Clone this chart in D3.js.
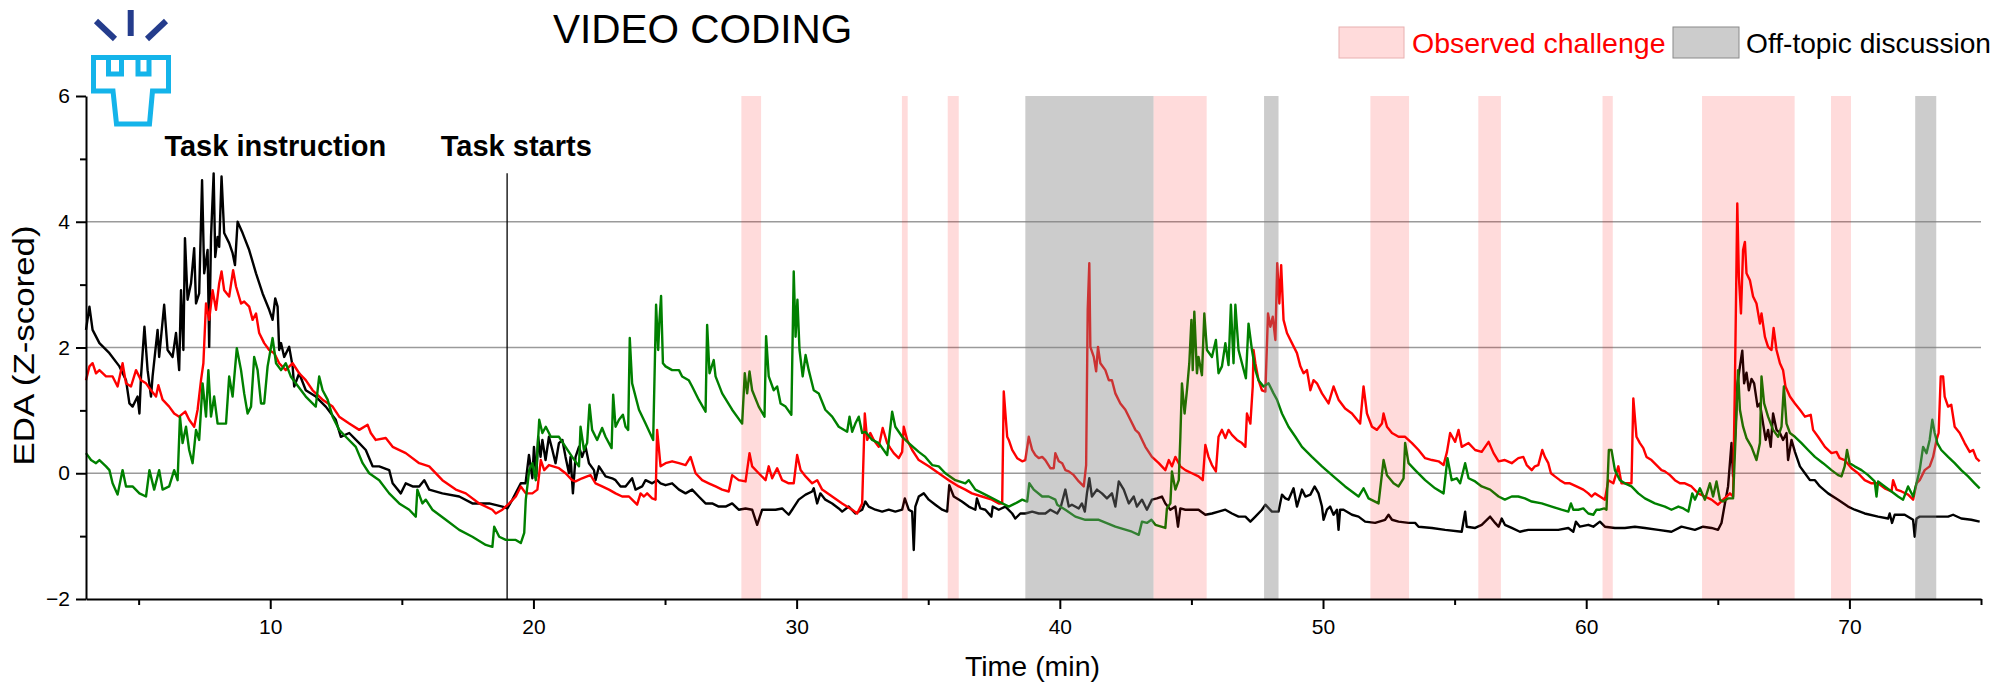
<!DOCTYPE html>
<html>
<head>
<meta charset="utf-8">
<script src="https://cdn.jsdelivr.net/npm/d3@7/dist/d3.min.js"></script>
<style>
  html, body { margin: 0; padding: 0; background: #fff; }
  svg { display: block; font-family: "Liberation Sans", Arial, sans-serif; }
</style>
</head>
<body>
<svg id="chart" width="2013" height="682"></svg>
<script>
// ---------------- DATA ----------------
const xMajorTicks = [10, 20, 30, 40, 50, 60, 70];
const xMinorTicks = [5, 15, 25, 35, 45, 55, 65, 75];
const yMajorTicks = [-2, 0, 2, 4, 6];
const yMinorTicks = [-1, 1, 3, 5];
const gridValues = [0, 2, 4];

const observedChallenge = [[27.9, 28.65], [34.0, 34.22], [35.74, 36.16], [43.56, 45.58], [51.8, 53.27], [55.9, 56.76], [60.62, 61.01], [64.4, 67.92], [69.3, 70.06]];
const offTopic = [[38.69, 43.56], [47.76, 48.31], [72.5, 73.3]];

const taskInstruction = { label: "Task instruction", time: 5.98, value: 5.04 };
const taskStarts = { label: "Task starts", time: 16.48, value: 5.04, lineTime: 19, lineTop: 4.77 };

const blackSeries = [[3.00,2.28],[3.13,2.65],[3.25,2.28],[3.51,2.07],[3.89,1.91],[4.27,1.70],[4.52,1.48],[4.65,1.11],[4.77,1.06],[4.96,1.22],[5.03,0.95],[5.09,1.54],[5.22,2.33],[5.34,1.64],[5.47,1.22],[5.53,1.54],[5.72,2.28],[5.78,1.85],[5.97,2.68],[6.10,1.96],[6.29,1.85],[6.42,2.23],[6.54,1.64],[6.61,2.91],[6.70,1.96],[6.76,3.74],[6.86,2.76],[6.99,3.02],[7.11,3.58],[7.18,2.70],[7.30,2.86],[7.41,4.66],[7.49,3.18],[7.62,3.55],[7.68,2.01],[7.75,3.76],[7.85,4.77],[7.91,3.44],[8.00,3.76],[8.06,3.60],[8.15,4.72],[8.25,3.82],[8.44,3.66],[8.57,3.50],[8.66,3.31],[8.76,4.00],[8.95,3.82],[9.20,3.55],[9.46,3.18],[9.71,2.86],[9.96,2.60],[10.09,2.44],[10.19,2.78],[10.28,2.65],[10.34,1.96],[10.41,2.07],[10.53,1.85],[10.72,2.01],[10.85,1.70],[10.91,1.38],[11.10,1.59],[11.35,1.32],[11.73,1.22],[12.11,1.06],[12.49,0.85],[12.68,0.58],[13.00,0.64],[13.38,0.48],[13.63,0.37],[13.89,0.11],[14.14,0.11],[14.52,0.05],[14.65,-0.16],[14.96,-0.32],[15.15,-0.16],[15.41,-0.21],[15.66,-0.21],[15.85,-0.11],[16.04,-0.26],[16.54,-0.32],[17.18,-0.37],[17.68,-0.48],[18.32,-0.48],[18.82,-0.53],[19.01,-0.56],[19.20,-0.42],[19.52,-0.16],
[19.70,-0.16],[19.83,0.29],[19.96,-0.08],[20.02,0.42],[20.11,-0.05],[20.18,0.58],[20.27,0.26],[20.34,0.53],[20.46,0.21],[20.59,0.58],[20.72,0.37],[20.84,0.16],[20.97,0.48],[21.10,0.53],[21.22,0.26],[21.35,0.00],[21.41,0.26],[21.50,-0.32],[21.60,0.26],[21.73,0.42],[21.85,0.26],[21.98,0.42],[22.11,0.16],[22.30,0.05],[22.36,-0.11],[22.49,0.11],[22.74,-0.05],[22.99,-0.08],[23.12,-0.11],[23.31,-0.21],[23.50,-0.21],[23.75,-0.08],[23.88,-0.26],[24.13,-0.21],[24.26,-0.11],[24.51,-0.16],[24.70,-0.11],[24.83,-0.16],[25.02,-0.19],[25.27,-0.16],[25.53,-0.26],[25.78,-0.32],[26.03,-0.26],[26.28,-0.37],[26.54,-0.48],[26.79,-0.48],[27.04,-0.53],[27.30,-0.53],[27.55,-0.48],[27.80,-0.58],[28.06,-0.56],[28.31,-0.58],[28.50,-0.82],[28.69,-0.58],[28.94,-0.58],[29.20,-0.58],[29.45,-0.56],[29.70,-0.66],[29.83,-0.58],[30.08,-0.42],[30.34,-0.34],[30.59,-0.29],[30.65,-0.24],[30.78,-0.48],[30.90,-0.32],[31.09,-0.42],[31.35,-0.48],[31.60,-0.56],[31.73,-0.61],[31.98,-0.53],[32.23,-0.64],[32.49,-0.58],[32.61,-0.45],[32.74,-0.53],[32.99,-0.58],[33.25,-0.61],[33.50,-0.58],[33.75,-0.61],[34.01,-0.58],[34.11,-0.40],[34.26,-0.58],[34.39,-0.61],[34.45,-1.22],[34.51,-0.53],[34.64,-0.37],[34.83,-0.32],[35.02,-0.42],[35.27,-0.50],[35.53,-0.58],[35.72,-0.61],[35.80,-0.19],[35.97,-0.37],[36.28,-0.45],[36.54,-0.53],[36.79,-0.58],[36.85,-0.40],[36.98,-0.56],[37.17,-0.58],[37.40,-0.69],[37.45,-0.53],[37.68,-0.58],
[37.93,-0.53],[38.19,-0.64],[38.31,-0.72],[38.50,-0.64],[38.69,-0.64],[38.95,-0.61],[39.20,-0.64],[39.45,-0.64],[39.64,-0.58],[39.90,-0.64],[40.02,-0.56],[40.21,-0.26],[40.34,-0.53],[40.46,-0.50],[40.72,-0.56],[40.84,-0.48],[40.95,-0.61],[41.03,-0.32],[41.12,-0.08],[41.22,-0.37],[41.41,-0.26],[41.60,-0.32],[41.79,-0.40],[41.98,-0.32],[42.11,-0.53],[42.24,-0.13],[42.43,-0.26],[42.62,-0.48],[42.81,-0.37],[42.93,-0.53],[43.12,-0.42],[43.31,-0.58],[43.50,-0.42],[43.69,-0.40],[43.88,-0.37],[44.01,-0.48],[44.20,-0.58],[44.39,-0.53],[44.49,-0.85],[44.58,-0.56],[44.77,-0.58],[45.02,-0.58],[45.27,-0.58],[45.53,-0.66],[45.78,-0.64],[46.03,-0.61],[46.29,-0.58],[46.54,-0.64],[46.79,-0.69],[47.05,-0.69],[47.24,-0.77],[47.43,-0.69],[47.68,-0.58],[47.81,-0.50],[48.06,-0.61],[48.31,-0.61],[48.44,-0.34],[48.57,-0.40],[48.69,-0.42],[48.88,-0.24],[49.01,-0.53],[49.20,-0.26],[49.33,-0.37],[49.52,-0.34],[49.68,-0.21],[49.83,-0.32],[49.96,-0.53],[50.02,-0.74],[50.15,-0.58],[50.27,-0.53],[50.40,-0.66],[50.53,-0.58],[50.59,-0.90],[50.65,-0.58],[50.78,-0.58],[51.10,-0.66],[51.35,-0.69],[51.60,-0.77],[51.98,-0.79],[52.36,-0.74],[52.49,-0.66],[52.62,-0.74],[52.87,-0.77],[53.25,-0.79],[53.50,-0.79],[53.63,-0.85],[54.14,-0.87],[54.64,-0.90],[55.27,-0.93],[55.40,-0.61],[55.46,-0.85],[55.78,-0.87],[56.03,-0.82],[56.35,-0.69],[56.54,-0.79],[56.67,-0.85],
[56.79,-0.72],[56.91,-0.82],[57.17,-0.87],[57.48,-0.93],[57.80,-0.90],[58.18,-0.90],[58.56,-0.90],[58.94,-0.90],[59.32,-0.87],[59.51,-0.93],[59.61,-0.77],[59.76,-0.85],[60.08,-0.82],[60.27,-0.85],[60.52,-0.77],[60.71,-0.85],[61.09,-0.87],[61.47,-0.87],[61.85,-0.85],[62.23,-0.87],[62.74,-0.90],[63.24,-0.93],[63.62,-0.85],[64.13,-0.90],[64.44,-0.85],[64.76,-0.87],[65.01,-0.90],[65.14,-0.79],[65.27,-0.48],[65.39,-0.21],[65.52,0.48],[65.58,-0.05],[65.67,0.69],[65.75,1.43],[65.84,1.70],[65.93,1.95],[66.00,1.43],[66.09,1.60],[66.18,1.32],[66.28,1.50],[66.38,1.43],[66.51,1.06],[66.60,1.11],[66.72,0.79],[66.82,0.53],[66.91,0.69],[67.01,0.42],[67.10,0.95],[67.23,0.69],[67.36,0.64],[67.48,0.53],[67.61,0.64],[67.67,0.21],[67.80,0.53],[67.93,0.34],[68.12,0.11],[68.31,0.00],[68.50,-0.11],[68.69,-0.11],[68.88,-0.21],[69.19,-0.32],[69.57,-0.42],[69.95,-0.53],[70.20,-0.58],[70.58,-0.64],[71.09,-0.69],[71.47,-0.72],[71.53,-0.64],[71.62,-0.79],[71.72,-0.66],[72.10,-0.66],[72.42,-0.74],[72.48,-1.01],[72.55,-0.72],[72.67,-0.69],[72.99,-0.69],[73.37,-0.69],[73.75,-0.69],[73.94,-0.66],[74.25,-0.72],[74.63,-0.74],[74.95,-0.77]];

const redSeries = [[3.00,1.48],[3.13,1.70],[3.25,1.75],[3.38,1.59],[3.51,1.64],[3.76,1.54],[4.01,1.54],[4.20,1.38],[4.39,1.75],[4.52,1.43],[4.71,1.38],[4.90,1.64],[5.09,1.48],[5.28,1.43],[5.47,1.32],[5.66,1.22],[5.75,1.40],[5.91,1.17],[6.16,1.06],[6.35,0.95],[6.54,0.90],[6.77,0.98],[6.92,0.85],[7.11,0.74],[7.24,1.01],[7.37,1.48],[7.46,1.75],[7.56,2.70],[7.68,2.44],[7.81,2.91],[7.94,2.60],[8.06,3.02],[8.15,3.21],[8.25,2.91],[8.44,2.81],[8.59,3.23],[8.70,2.97],[8.89,2.70],[9.01,2.73],[9.20,2.65],[9.33,2.44],[9.46,2.54],[9.58,2.23],[9.77,2.07],[9.96,1.96],[10.15,1.91],[10.34,1.75],[10.59,1.64],[10.85,1.75],[11.10,1.59],[11.35,1.48],[11.61,1.32],[11.99,1.17],[12.37,1.06],[12.62,0.90],[13.00,0.79],[13.38,0.69],[13.70,0.77],[13.82,0.64],[14.01,0.53],[14.39,0.56],[14.65,0.42],[15.15,0.32],[15.66,0.16],[16.04,0.11],[16.54,-0.11],[17.05,-0.26],[17.43,-0.32],[17.94,-0.48],[18.44,-0.58],[18.57,-0.64],[18.82,-0.58],[19.08,-0.48],[19.33,-0.37],[19.52,-0.21],[19.71,-0.32],[19.96,-0.32],[20.15,-0.26],[20.28,0.21],[20.41,0.05],[20.59,0.13],[20.97,0.08],
[21.22,0.00],[21.47,-0.11],[21.60,-0.13],[21.85,-0.08],[22.04,-0.05],[22.17,-0.03],[22.36,-0.16],[22.61,-0.21],[22.87,-0.26],[23.12,-0.32],[23.37,-0.37],[23.63,-0.37],[23.75,-0.42],[23.94,-0.50],[24.07,-0.32],[24.20,-0.37],[24.32,-0.32],[24.51,-0.40],[24.64,-0.42],[24.70,0.69],[24.83,0.11],[25.02,0.16],[25.27,0.19],[25.53,0.16],[25.78,0.13],[25.97,0.26],[26.16,0.00],[26.41,-0.11],[26.66,-0.16],[26.92,-0.21],[27.17,-0.26],[27.42,-0.29],[27.55,-0.03],[27.80,-0.11],[28.06,-0.13],[28.21,0.32],[28.31,0.11],[28.56,0.00],[28.82,-0.11],[28.94,0.11],[29.07,-0.08],[29.26,0.08],[29.45,-0.11],[29.70,-0.16],[29.89,-0.16],[30.02,0.29],[30.15,0.05],[30.34,-0.05],[30.59,-0.16],[30.78,-0.11],[30.97,-0.26],[31.35,-0.37],[31.73,-0.48],[32.11,-0.58],[32.30,-0.64],[32.49,-0.48],[32.59,0.95],[32.68,0.53],[32.80,0.64],[32.93,0.53],[33.12,0.42],[33.27,0.72],[33.44,0.48],[33.56,0.40],[33.69,0.32],[33.88,0.24],[34.01,0.34],[34.07,0.74],[34.20,0.53],[34.39,0.37],[34.64,0.21],[35.02,0.11],[35.40,0.00],[35.78,-0.11],[36.16,-0.21],[36.41,-0.26],[36.66,-0.32],[37.04,-0.37],[37.42,-0.42],[37.68,-0.48],
[37.81,-0.48],[37.87,1.30],[38.00,0.58],[38.06,0.53],[38.19,0.37],[38.38,0.24],[38.57,0.19],[38.69,0.21],[38.82,0.58],[38.95,0.37],[39.07,0.29],[39.20,0.24],[39.33,0.26],[39.45,0.21],[39.64,0.08],[39.77,0.08],[39.83,0.32],[39.96,0.19],[40.09,0.16],[40.21,0.05],[40.34,0.03],[40.53,-0.03],[40.72,-0.13],[40.91,-0.21],[41.00,0.13],[41.06,2.60],[41.12,3.34],[41.16,2.01],[41.29,1.85],[41.38,1.62],[41.45,2.01],[41.54,1.75],[41.73,1.64],[41.86,1.48],[41.98,1.48],[42.11,1.27],[42.30,1.11],[42.49,1.01],[42.68,0.85],[42.87,0.69],[43.00,0.64],[43.25,0.42],[43.50,0.26],[43.76,0.16],[44.01,0.05],[44.14,0.21],[44.26,0.11],[44.39,0.26],[44.58,0.11],[44.77,0.05],[45.02,0.00],[45.27,-0.05],[45.43,-0.11],[45.53,0.45],[45.65,0.26],[45.78,0.13],[45.93,0.03],[46.03,0.58],[46.16,0.69],[46.29,0.56],[46.41,0.69],[46.54,0.61],[46.73,0.53],[46.92,0.48],[47.05,0.42],[47.11,0.95],[47.24,0.79],[47.33,1.38],[47.36,1.96],[47.43,1.75],[47.55,1.48],[47.68,1.32],[47.81,1.30],[47.91,2.54],[48.00,2.33],[48.09,2.49],[48.19,2.12],[48.26,3.34],[48.34,2.70],[48.41,3.31],[48.50,2.44],[48.63,2.23],[48.82,2.07],[49.01,1.91],[49.14,1.70],[49.26,1.59],[49.39,1.64],[49.52,1.32],[49.64,1.48],[49.77,1.43],[49.96,1.27],[50.21,1.11],[50.40,1.38],[50.59,1.17],[50.84,1.03],[51.10,0.95],[51.41,0.79],[51.54,1.38],[51.67,0.95],[51.86,0.74],[52.05,0.69],[52.24,0.79],[52.30,0.95],[52.43,0.74],[52.62,0.64],[52.87,0.58],[53.12,0.58],[53.38,0.48],[53.63,0.37],[53.88,0.24],[54.14,0.21],[54.39,0.19],[54.58,0.13],[54.71,0.34],[54.83,0.64],[55.02,0.50],[55.15,0.69],[55.27,0.42],[55.53,0.48],[55.78,0.37],[56.03,0.34],[56.29,0.50],[56.48,0.32],[56.67,0.19],
[56.91,0.21],[57.17,0.16],[57.42,0.24],[57.61,0.26],[57.74,0.13],[57.93,0.05],[58.05,0.11],[58.18,0.13],[58.33,0.37],[58.43,0.26],[58.56,0.16],[58.66,0.00],[58.81,-0.05],[59.00,-0.11],[59.19,-0.16],[59.38,-0.16],[59.63,-0.21],[59.89,-0.26],[60.08,-0.32],[60.20,-0.37],[60.33,-0.32],[60.52,-0.37],[60.71,-0.42],[60.84,-0.11],[61.03,-0.16],[61.22,0.11],[61.34,-0.16],[61.72,-0.16],[61.79,1.19],[61.91,0.58],[62.04,0.48],[62.17,0.40],[62.29,0.26],[62.48,0.21],[62.67,0.13],[62.86,0.05],[62.99,0.03],[63.18,-0.03],[63.37,-0.11],[63.56,-0.16],[63.75,-0.16],[64.00,-0.21],[64.25,-0.32],[64.51,-0.37],[64.76,-0.42],[65.01,-0.50],[65.20,-0.42],[65.33,-0.37],[65.46,-0.32],[65.58,-0.37],[65.65,1.43],[65.74,4.29],[65.80,3.13],[65.88,2.54],[65.96,3.55],[66.03,3.68],[66.09,3.18],[66.22,3.07],[66.34,2.81],[66.47,2.70],[66.60,2.38],[66.66,2.54],[66.79,2.17],[66.91,2.01],[67.04,1.96],[67.12,2.31],[67.23,1.96],[67.36,1.75],[67.48,1.64],[67.57,1.38],[67.74,1.22],[67.93,1.11],[68.12,1.01],[68.31,0.90],[68.53,0.93],[68.62,0.69],[68.81,0.58],[69.07,0.42],[69.32,0.32],[69.51,0.34],[69.63,0.24],[69.82,0.21],[70.08,0.08],[70.33,0.00],[70.58,-0.11],[70.84,-0.16],[71.09,-0.16],[71.34,-0.24],[71.60,-0.29],[71.66,-0.11],[71.79,-0.26],[71.98,-0.29],[72.23,-0.34],[72.42,-0.42],[72.55,-0.16],[72.67,-0.11],[72.86,0.05],[73.05,0.11],[73.18,0.26],[73.31,0.53],[73.39,0.64],[73.47,1.54],[73.56,1.54],[73.62,1.22],[73.75,1.06],[73.87,1.09],[74.00,0.74],[74.19,0.64],[74.38,0.48],[74.57,0.34],[74.70,0.37],[74.82,0.24],[74.95,0.19]];

const greenSeries = [[3.00,0.32],[3.19,0.21],[3.38,0.16],[3.51,0.21],[3.76,0.11],[3.89,0.05],[4.01,-0.16],[4.20,-0.34],[4.39,0.05],[4.52,-0.21],[4.77,-0.21],[5.03,-0.32],[5.28,-0.37],[5.41,0.05],[5.59,-0.26],[5.78,0.05],[5.91,-0.26],[6.16,-0.21],[6.35,0.05],[6.48,-0.11],[6.57,0.90],[6.67,0.48],[6.80,0.74],[6.92,0.37],[7.05,0.16],[7.18,0.69],[7.30,0.53],[7.43,1.43],[7.56,0.90],[7.65,1.64],[7.75,0.90],[7.87,1.22],[8.00,0.79],[8.32,0.79],[8.44,1.54],[8.57,1.22],[8.73,1.99],[8.89,1.64],[9.01,1.27],[9.14,0.95],[9.27,1.06],[9.39,1.85],[9.52,1.64],[9.65,1.11],[9.77,1.11],[9.90,1.70],[10.09,2.15],[10.22,1.75],[10.41,1.64],[10.59,1.75],[10.78,1.54],[10.97,1.43],[11.35,1.22],[11.73,1.06],[11.86,1.54],[11.99,1.32],[12.18,1.17],[12.37,0.90],[12.62,0.69],[12.87,0.58],[13.25,0.42],[13.51,0.16],[13.76,0.00],[14.14,-0.11],[14.52,-0.32],[14.90,-0.48],[15.28,-0.58],[15.53,-0.69],[15.59,-0.26],[15.78,-0.48],[15.91,-0.42],[16.16,-0.58],[16.67,-0.74],[17.18,-0.90],[17.68,-1.01],[18.19,-1.14],[18.44,-1.17],[18.51,-0.85],[18.70,-1.01],[18.95,-1.06],[19.33,-1.06],[19.52,-1.11],[19.65,-0.95],[19.71,-0.42],[19.84,0.05],[19.96,0.16],[20.09,-0.11],[20.22,0.85],[20.34,0.64],[20.47,0.74],[20.66,0.58],[20.85,0.58],[20.97,0.58],
[21.22,0.42],[21.47,0.26],[21.73,0.11],[21.79,0.74],[21.92,0.37],[22.04,0.48],[22.13,1.09],[22.23,0.69],[22.42,0.53],[22.61,0.72],[22.74,0.58],[22.97,0.40],[23.03,1.25],[23.12,0.74],[23.25,0.85],[23.40,0.93],[23.50,0.74],[23.60,0.69],[23.66,2.15],[23.75,1.43],[24.01,1.01],[24.26,0.79],[24.55,0.53],[24.66,2.68],[24.74,1.96],[24.79,2.44],[24.85,2.82],[24.92,1.75],[25.02,1.70],[25.27,1.64],[25.53,1.64],[25.65,1.54],[25.90,1.48],[26.03,1.38],[26.28,1.17],[26.54,0.98],[26.60,2.36],[26.69,1.59],[26.85,1.80],[26.92,1.54],[27.17,1.27],[27.55,1.01],[27.93,0.79],[28.03,1.59],[28.12,1.27],[28.21,1.62],[28.31,1.32],[28.56,1.06],[28.78,0.90],[28.84,2.18],[28.94,1.54],[29.13,1.32],[29.26,1.38],[29.39,1.11],[29.58,1.06],[29.80,0.93],[29.89,3.21],[29.96,2.17],[30.03,2.76],[30.11,1.96],[30.23,1.54],[30.34,1.88],[30.46,1.64],[30.65,1.32],[30.84,1.27],[31.09,1.01],[31.35,0.90],[31.60,0.74],[31.92,0.66],[32.01,0.90],[32.11,0.66],[32.23,0.79],[32.36,0.90],[32.49,0.64],[32.61,0.66],[32.87,0.53],[33.12,0.48],[33.44,0.29],[33.63,0.98],[33.75,0.74],[34.01,0.58],[34.26,0.48],[34.64,0.34],[34.89,0.26],[35.15,0.13],[35.40,0.11],[35.65,0.00],[36.03,-0.11],[36.41,-0.16],[36.54,-0.11],[36.79,-0.26],[37.17,-0.34],[37.68,-0.45],
[38.06,-0.53],[38.31,-0.48],[38.57,-0.42],[38.76,-0.45],[38.84,-0.16],[39.01,-0.26],[39.33,-0.37],[39.58,-0.37],[39.83,-0.42],[39.90,-0.50],[40.21,-0.58],[40.59,-0.69],[40.97,-0.74],[41.48,-0.74],[42.11,-0.85],[42.74,-0.93],[43.00,-0.98],[43.12,-0.77],[43.31,-0.79],[43.48,-0.74],[43.63,-0.82],[44.01,-0.87],[44.07,-0.56],[44.20,-0.48],[44.26,0.03],[44.39,-0.26],[44.52,-0.11],[44.58,0.58],[44.64,1.43],[44.74,0.95],[44.83,1.32],[44.92,1.75],[45.00,2.44],[45.05,1.64],[45.11,2.57],[45.21,1.59],[45.27,1.85],[45.40,1.56],[45.49,2.54],[45.59,1.96],[45.78,1.85],[45.93,2.12],[46.03,1.59],[46.16,1.70],[46.29,2.07],[46.41,1.72],[46.50,2.68],[46.60,1.75],[46.67,2.68],[46.79,1.96],[46.92,1.75],[47.07,1.51],[47.17,2.38],[47.30,1.96],[47.43,1.64],[47.55,1.48],[47.74,1.38],[47.93,1.43],[48.12,1.27],[48.25,1.17],[48.44,0.95],[48.69,0.74],[48.95,0.58],[49.20,0.42],[49.58,0.26],[49.96,0.11],[50.34,-0.03],[50.84,-0.21],[51.35,-0.37],[51.54,-0.24],[51.73,-0.40],[52.11,-0.48],[52.30,0.21],[52.43,-0.03],[52.68,-0.16],[52.87,-0.21],[53.06,-0.08],[53.12,0.48],[53.25,0.16],[53.50,0.05],[53.88,-0.11],[54.26,-0.24],[54.58,-0.32],[54.73,0.24],[54.89,-0.11],[55.08,-0.08],[55.21,-0.16],[55.40,0.16],[55.53,-0.08],[55.78,-0.13],[56.03,-0.21],[56.35,-0.26],[56.67,-0.37],
[56.91,-0.42],[57.17,-0.37],[57.42,-0.37],[57.67,-0.40],[57.93,-0.45],[58.31,-0.48],[58.69,-0.53],[59.06,-0.58],[59.32,-0.61],[59.42,-0.48],[59.51,-0.58],[59.70,-0.58],[59.89,-0.56],[60.08,-0.64],[60.27,-0.66],[60.39,-0.58],[60.52,-0.58],[60.69,-0.56],[60.77,-0.58],[60.86,0.37],[60.96,0.37],[61.09,0.05],[61.28,-0.11],[61.47,-0.16],[61.72,-0.21],[61.98,-0.32],[62.23,-0.40],[62.61,-0.48],[62.99,-0.53],[63.24,-0.58],[63.50,-0.53],[63.69,-0.56],[63.88,-0.61],[64.03,-0.32],[64.13,-0.42],[64.32,-0.24],[64.51,-0.42],[64.70,-0.16],[64.82,-0.37],[64.95,-0.13],[65.08,-0.42],[65.20,-0.45],[65.39,-0.40],[65.58,-0.40],[65.67,0.53],[65.77,1.64],[65.84,1.01],[65.96,0.74],[66.09,0.56],[66.28,0.42],[66.47,0.21],[66.60,0.48],[66.66,1.54],[66.76,1.11],[66.91,0.90],[67.10,0.69],[67.29,0.58],[67.42,0.74],[67.51,1.38],[67.61,0.79],[67.74,0.64],[67.93,0.58],[68.18,0.48],[68.43,0.37],[68.69,0.26],[69.00,0.16],[69.32,0.05],[69.57,-0.03],[69.70,-0.05],[69.82,0.11],[69.91,0.37],[70.01,0.16],[70.20,0.11],[70.46,0.05],[70.71,-0.03],[70.96,-0.13],[71.03,-0.37],[71.09,-0.13],[71.34,-0.21],[71.60,-0.29],[71.85,-0.37],[72.04,-0.42],[72.23,-0.21],[72.42,-0.37],[72.55,-0.16],[72.67,0.05],[72.80,0.42],[72.93,0.32],[73.05,0.53],[73.15,0.85],[73.24,0.64],[73.34,0.48],[73.49,0.37],[73.75,0.26],[74.00,0.16],[74.25,0.05],[74.51,-0.05],[74.76,-0.16],[74.95,-0.24]];

const seriesList = [
  { name: "black", color: "#000000", data: blackSeries },
  { name: "red", color: "#ff0000", data: redSeries },
  { name: "green", color: "#008000", data: greenSeries }
];

// ---------------- CHART ----------------
const svg = d3.select("#chart");
const FONT = '"Liberation Sans", Arial, sans-serif';

const x = d3.scaleLinear().domain([3, 75]).range([86, 1981]);
const y = d3.scaleLinear().domain([-2, 6]).range([599, 96]);

// gridlines
svg.append("g").selectAll("line").data(gridValues).join("line")
  .attr("x1", x(3)).attr("x2", x(75))
  .attr("y1", d => y(d)).attr("y2", d => y(d))
  .attr("stroke", "#9a9a9a").attr("stroke-width", 1.6);

// task starts line
svg.append("line")
  .attr("x1", x(taskStarts.lineTime)).attr("x2", x(taskStarts.lineTime))
  .attr("y1", y(taskStarts.lineTop)).attr("y2", y(-2))
  .attr("stroke", "#000").attr("stroke-width", 1.3);

// series
const line = d3.line().x(d => x(d[0])).y(d => y(d[1]));
svg.append("g").selectAll("path").data(seriesList).join("path")
  .attr("d", d => line(d.data))
  .attr("fill", "none")
  .attr("stroke", d => d.color)
  .attr("stroke-width", 2.4)
  .attr("stroke-linejoin", "round");

// shaded overlays (semi-transparent, on top of lines)
svg.append("g").selectAll("rect").data(observedChallenge).join("rect")
  .attr("x", d => x(d[0])).attr("width", d => x(d[1]) - x(d[0]))
  .attr("y", y(6)).attr("height", y(-2) - y(6))
  .attr("fill", "rgb(255,0,0)").attr("fill-opacity", 0.14);
svg.append("g").selectAll("rect").data(offTopic).join("rect")
  .attr("x", d => x(d[0])).attr("width", d => x(d[1]) - x(d[0]))
  .attr("y", y(6)).attr("height", y(-2) - y(6))
  .attr("fill", "rgb(128,128,128)").attr("fill-opacity", 0.4);

// axes
const xAxisG = svg.append("g").attr("transform", `translate(0,${y(-2)})`);
xAxisG.call(d3.axisBottom(x).tickValues(xMajorTicks).tickSize(10).tickSizeOuter(0).tickFormat(d3.format("d")));
const xMinorG = svg.append("g").attr("transform", `translate(0,${y(-2)})`);
xMinorG.call(d3.axisBottom(x).tickValues(xMinorTicks).tickSize(6).tickSizeOuter(0).tickFormat(""));
xMinorG.select(".domain").remove();

const yAxisG = svg.append("g").attr("transform", `translate(${x(3)},0)`);
yAxisG.call(d3.axisLeft(y).tickValues(yMajorTicks).tickSize(10).tickSizeOuter(0).tickFormat(d3.format("d")));
const yMinorG = svg.append("g").attr("transform", `translate(${x(3)},0)`);
yMinorG.call(d3.axisLeft(y).tickValues(yMinorTicks).tickSize(6).tickSizeOuter(0).tickFormat(""));
yMinorG.select(".domain").remove();

[xAxisG, xMinorG, yAxisG, yMinorG].forEach(g => {
  g.selectAll("path, line").attr("stroke", "#000").attr("stroke-width", 2);
  g.selectAll("text").attr("font-family", FONT).attr("font-size", 21).attr("fill", "#000");
});
xAxisG.selectAll("text").attr("dy", "1.05em");
yAxisG.selectAll("text").attr("x", -16);

// axis titles
svg.append("text").attr("x", (x(3) + x(75)) / 2 - 1).attr("y", 676)
  .attr("text-anchor", "middle").attr("font-family", FONT).attr("font-size", 28.5)
  .text("Time (min)");
svg.append("text").attr("transform", `translate(34,${(y(6) + y(-2)) / 2 - 2}) rotate(-90)`)
  .attr("text-anchor", "middle").attr("font-family", FONT).attr("font-size", 30)
  .attr("textLength", 240).attr("lengthAdjust", "spacingAndGlyphs")
  .text("EDA (Z-scored)");

// annotations
svg.append("text").attr("x", x(taskInstruction.time)).attr("y", y(taskInstruction.value))
  .attr("font-family", FONT).attr("font-size", 29).attr("font-weight", "bold")
  .text(taskInstruction.label);
svg.append("text").attr("x", x(taskStarts.time)).attr("y", y(taskStarts.value))
  .attr("font-family", FONT).attr("font-size", 29).attr("font-weight", "bold")
  .text(taskStarts.label);

// title
svg.append("text").attr("x", 553).attr("y", 43)
  .attr("font-family", FONT).attr("font-size", 40.5).text("VIDEO CODING");

// legend
const legend = svg.append("g");
legend.append("rect").attr("x", 1339).attr("y", 27).attr("width", 65).attr("height", 31)
  .attr("fill", "rgb(255,0,0)").attr("fill-opacity", 0.14)
  .attr("stroke", "#e8b0b0").attr("stroke-width", 1);
legend.append("text").attr("x", 1412).attr("y", 53)
  .attr("font-family", FONT).attr("font-size", 28.5).attr("fill", "#ff0000").text("Observed challenge");
legend.append("rect").attr("x", 1673).attr("y", 27).attr("width", 66).attr("height", 31)
  .attr("fill", "rgb(128,128,128)").attr("fill-opacity", 0.4)
  .attr("stroke", "#8a8a8a").attr("stroke-width", 1);
legend.append("text").attr("x", 1746).attr("y", 53)
  .attr("font-family", FONT).attr("font-size", 28.5).attr("fill", "#000")
  .attr("textLength", 245).attr("lengthAdjust", "spacingAndGlyphs").text("Off-topic discussion");

// logo
const logo = svg.append("g");
const rayColor = "#243c8c", castleColor = "#14b4ea";
[[[96, 21], [115, 39]], [[130.7, 10], [130.7, 36]], [[166, 21], [147, 39]]].forEach(p => {
  logo.append("line").attr("x1", p[0][0]).attr("y1", p[0][1]).attr("x2", p[1][0]).attr("y2", p[1][1])
    .attr("stroke", rayColor).attr("stroke-width", 6);
});
logo.append("path")
  .attr("d", "M93.5,57.5 L168.5,57.5 L168.5,91 L152.5,91 L149.5,124 L116.5,124 L113,91 L93.5,91 Z")
  .attr("fill", "none").attr("stroke", castleColor).attr("stroke-width", 5).attr("stroke-linejoin", "miter");
logo.append("path").attr("d", "M108.5,57.5 L108.5,74 L121.5,74 L121.5,57.5")
  .attr("fill", "none").attr("stroke", castleColor).attr("stroke-width", 5);
logo.append("path").attr("d", "M138,57.5 L138,74 L149,74 L149,57.5")
  .attr("fill", "none").attr("stroke", castleColor).attr("stroke-width", 5);
</script>
</body>
</html>
